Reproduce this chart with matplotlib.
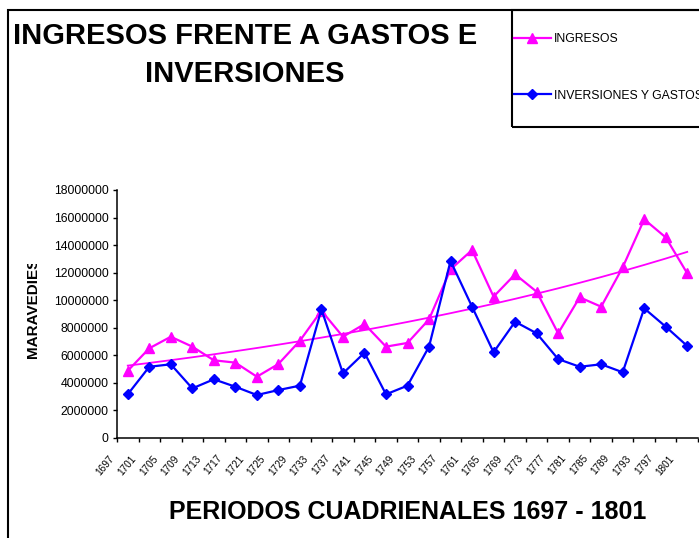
import matplotlib
matplotlib.use("Agg")
import matplotlib.pyplot as plt
import matplotlib.patches as mpatches
import matplotlib.transforms as mtransforms
import numpy as np

plt.rcParams["font.family"] = ["Liberation Sans", "DejaVu Sans"]

# ── Data ───────────────────────────────────────────────────────────────────────
periodos = ["1697", "1701", "1705", "1709", "1713", "1717", "1721", "1725", "1729",
            "1733", "1737", "1741", "1745", "1749", "1753", "1757", "1761", "1765",
            "1769", "1773", "1777", "1781", "1785", "1789", "1793", "1797", "1801"]
ingresos = [4880000, 6510000, 7350000, 6630000, 5640000, 5470000, 4450000, 5370000,
            7060000, 9240000, 7350000, 8270000, 6630000, 6900000, 8610000, 12240000,
            13640000, 10260000, 11880000, 10620000, 7600000, 10210000, 9530000,
            12390000, 15870000, 14560000, 11950000]
gastos = [3170000, 5170000, 5350000, 3600000, 4260000, 3720000, 3120000, 3480000,
          3800000, 9340000, 4690000, 6190000, 3170000, 3800000, 6630000, 12850000,
          9530000, 6220000, 8440000, 7600000, 5730000, 5170000, 5350000, 4770000,
          9410000, 8080000, 6680000]

PINK = "#ff00ff"
BLUE = "#0000ff"
W, H = 699, 538

x = np.arange(len(periodos))
# exponential trendline of INGRESOS (as in the spreadsheet)
b, a = np.polyfit(x, np.log(ingresos), 1)
trend = np.exp(a + b * x)

fig = plt.figure(figsize=(W / 100, H / 100), dpi=100)
fig.patch.set_facecolor("white")
ax = fig.add_axes([117 / W, 1 - 438 / H, 581 / W, 248 / H])

ax.plot(x, trend, color=PINK, linewidth=1.3, zorder=2)
l1, = ax.plot(x, ingresos, color=PINK, linewidth=1.6, marker="^", markersize=7,
              label="INGRESOS", zorder=3)
l2, = ax.plot(x, gastos, color=BLUE, linewidth=1.6, marker="D", markersize=5.5,
              label="INVERSIONES Y GASTOS", zorder=4)

ax.set_xlim(-0.5, len(periodos) - 0.5)
ax.set_ylim(0, 18000000)
ax.set_yticks(np.arange(0, 18000001, 2000000))
ax.ticklabel_format(style="plain", axis="y", useOffset=False)

for s in ("top", "right"):
    ax.spines[s].set_visible(False)
for s in ("left", "bottom"):
    ax.spines[s].set_linewidth(1.1)
    ax.spines[s].set_color("black")

ax.tick_params(axis="y", direction="out", length=3, width=1, pad=3, labelsize=8.8)
# category labels at the points, tick marks between categories
ax.set_xticks(x)
ax.set_xticklabels(periodos, rotation=50, ha="right", va="top", fontsize=7.2)
ax.set_xticks(np.arange(-0.5, len(periodos), 1), minor=True)
ax.tick_params(axis="x", which="major", length=0, pad=11)
ax.tick_params(axis="x", which="minor", direction="out", length=3, width=1)
offset = mtransforms.ScaledTranslation(-8 / 72, 0, fig.dpi_scale_trans)
for lab in ax.get_xticklabels():
    lab.set_transform(lab.get_transform() + offset)

# ── Texts ──────────────────────────────────────────────────────────────────────
fig.text(245 / W, 1 - 55 / H, "INGRESOS FRENTE A GASTOS E\nINVERSIONES",
         ha="center", va="center", fontsize=21, fontweight="bold",
         multialignment="center", linespacing=1.42)
fig.text(408 / W, 1 - 512 / H, "PERIODOS CUADRIENALES 1697 - 1801",
         ha="center", va="center", fontsize=18, fontweight="bold")
ylab = fig.text(33 / W, 1 - 358 / H, "MARAVEDIES", rotation=90,
                ha="center", va="bottom", fontsize=11, fontweight="bold")
ylab.set_clip_box(mtransforms.TransformedBbox(
    mtransforms.Bbox([[0, 0], [1, 1 - 264 / H]]), fig.transFigure))
ylab.set_clip_on(True)

# ── Frames ─────────────────────────────────────────────────────────────────────
fig.add_artist(mpatches.Rectangle((8 / W, -0.1), 1.2, 1.1 - 10 / H,
                                  transform=fig.transFigure, fill=False,
                                  edgecolor="black", linewidth=1.5, clip_on=False))
fig.add_artist(mpatches.Rectangle((512 / W, 1 - 127 / H), 0.5, 117 / H,
                                  transform=fig.transFigure, fill=False,
                                  edgecolor="black", linewidth=1.5, clip_on=False))

leg = fig.legend(handles=[l1, l2], loc="upper left",
                 bbox_to_anchor=(514 / W, 1 - 33 / H), frameon=False,
                 fontsize=8.8, handlelength=3.0, handletextpad=0.3,
                 labelspacing=3.65, borderpad=0, borderaxespad=0)
for h in leg.legend_handles:
    h.set_linewidth(1.6)

fig.savefig("out.png", dpi=100, facecolor="white")
